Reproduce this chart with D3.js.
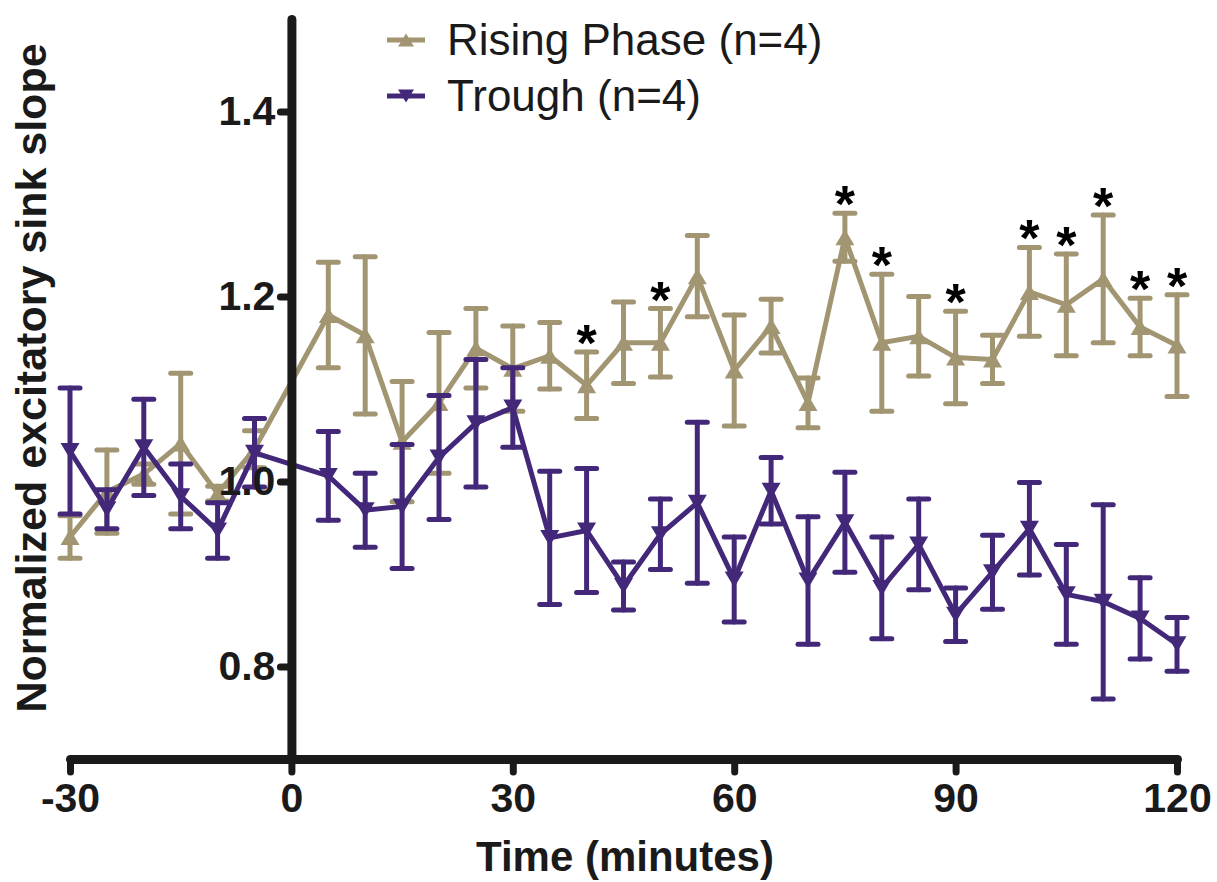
<!DOCTYPE html>
<html>
<head>
<meta charset="utf-8">
<script src="https://cdn.jsdelivr.net/npm/d3@7"></script>
<style>
  body { margin: 0; background: #fff; }
  svg { display: block; font-family: Arial, "Liberation Sans", sans-serif; }
</style>
</head>
<body>
<svg width="1217" height="882"></svg>
<script>
// time points (minutes), no point at 0
var times = [-30,-25,-20,-15,-10,-5,5,10,15,20,25,30,35,40,45,50,55,60,65,70,75,80,85,90,95,100,105,110,115,120];

var risingMean = [0.940,0.989,1.008,1.041,0.987,1.035,1.180,1.158,1.043,1.085,1.144,1.122,1.136,1.104,1.150,1.150,1.222,1.120,1.168,1.085,1.264,1.150,1.157,1.134,1.132,1.205,1.191,1.219,1.167,1.147];
var risingErr = [0.023,0.045,0.011,0.076,0.008,0.020,0.057,0.085,0.065,0.076,0.043,0.046,0.036,0.036,0.044,0.037,0.044,0.060,0.029,0.027,0.026,0.074,0.043,0.050,0.026,0.048,0.055,0.069,0.031,0.055];

var troughMean = [1.033,0.970,1.037,0.984,0.947,1.031,1.006,0.969,0.973,1.026,1.063,1.080,0.939,0.947,0.887,0.943,0.977,0.894,0.990,0.893,0.956,0.885,0.932,0.856,0.902,0.949,0.878,0.870,0.852,0.824];
var troughErr = [0.068,0.021,0.052,0.035,0.030,0.037,0.048,0.040,0.067,0.067,0.069,0.043,0.072,0.067,0.026,0.038,0.087,0.046,0.036,0.069,0.054,0.055,0.049,0.029,0.040,0.050,0.054,0.105,0.044,0.029];

// significant time points (stars over rising phase)
var starTimes = [40,50,75,80,90,100,105,110,115,120];

var xTicks = [-30,0,30,60,90,120];
var yTicks = [0.8,1.0,1.2,1.4];

var tan = "#a19572";
var purple = "#43287a";
var ink = "#1a1a1a";

var svg = d3.select("svg");

var x = d3.scaleLinear().domain([-30,120]).range([70,1177]);
var y = d3.scaleLinear().domain([0.7,1.5]).range([759,19]);

function makeSeries(mean, err) {
  return times.map(function(t,i){ return {t:t, m:mean[i], e:err[i]}; });
}

var series = [
  {name:"Rising Phase (n=4)", color:tan, up:true, data:makeSeries(risingMean, risingErr)},
  {name:"Trough (n=4)", color:purple, up:false, data:makeSeries(troughMean, troughErr)}
];

function tri(up, w, h) {
  if (up) return "M0," + (-h/2) + "L" + (w/2) + "," + (h/2) + "L" + (-w/2) + "," + (h/2) + "Z";
  return "M0," + (h/2) + "L" + (w/2) + "," + (-h/2) + "L" + (-w/2) + "," + (-h/2) + "Z";
}

var line = d3.line().x(function(d){return x(d.t);}).y(function(d){return y(d.m);});

series.forEach(function(s){
  var g = svg.append("g");
  var eb = g.selectAll(".eb").data(s.data).enter().append("g")
    .attr("stroke", s.color).attr("stroke-width", 5).attr("stroke-linecap", "round");
  eb.append("line")
    .attr("x1", function(d){return x(d.t);}).attr("x2", function(d){return x(d.t);})
    .attr("y1", function(d){return y(d.m + d.e);}).attr("y2", function(d){return y(d.m - d.e);});
  eb.append("line")
    .attr("x1", function(d){return x(d.t) - 10;}).attr("x2", function(d){return x(d.t) + 10;})
    .attr("y1", function(d){return y(d.m + d.e);}).attr("y2", function(d){return y(d.m + d.e);});
  eb.append("line")
    .attr("x1", function(d){return x(d.t) - 10;}).attr("x2", function(d){return x(d.t) + 10;})
    .attr("y1", function(d){return y(d.m - d.e);}).attr("y2", function(d){return y(d.m - d.e);});

  g.append("path").datum(s.data)
    .attr("d", line)
    .attr("fill", "none")
    .attr("stroke", s.color)
    .attr("stroke-width", 5)
    .attr("stroke-linejoin", "miter");

  g.selectAll(".mk").data(s.data).enter().append("path")
    .attr("d", tri(s.up, 19, 16))
    .attr("transform", function(d){return "translate(" + x(d.t) + "," + y(d.m) + ")";})
    .attr("fill", s.color);
});

// stars
var rising = series[0].data;
svg.selectAll(".star").data(starTimes).enter().append("text")
  .attr("x", function(t){return x(t);})
  .attr("y", function(t){
    var d = rising.filter(function(p){return p.t === t;})[0];
    return y(d.m + d.e) + 9;
  })
  .attr("text-anchor", "middle")
  .attr("font-size", 52)
  .attr("font-weight", "bold")
  .attr("fill", "#000")
  .text("*");

// axes
var yAxis = d3.axisLeft(y).tickValues(yTicks).tickFormat(d3.format(".1f")).tickSize(11).tickSizeOuter(0).tickPadding(5);
var xAxis = d3.axisBottom(x).tickValues(xTicks).tickFormat(function(d){return String(d);}).tickSize(13).tickSizeOuter(0).tickPadding(11);

var gx = svg.append("g").attr("transform", "translate(0," + y(0.7) + ")").call(xAxis);
var gy = svg.append("g").attr("transform", "translate(" + x(0) + ",0)").call(yAxis);

[gx, gy].forEach(function(g){
  g.select(".domain").attr("stroke", ink).attr("stroke-width", 9).attr("stroke-linecap", "round");
  g.selectAll(".tick line").attr("stroke", ink).attr("stroke-width", 7).attr("stroke-linecap", "round");
  g.selectAll(".tick text").attr("fill", ink).attr("font-size", 41).attr("font-weight", "bold")
    .attr("font-family", "Arial, 'Liberation Sans', sans-serif");
});

// axis titles
svg.append("text")
  .attr("x", 625).attr("y", 871)
  .attr("text-anchor", "middle")
  .attr("font-size", 42).attr("font-weight", "bold").attr("fill", ink)
  .text("Time (minutes)");

svg.append("text")
  .attr("transform", "translate(46,378) rotate(-90)")
  .attr("text-anchor", "middle")
  .attr("font-size", 43).attr("font-weight", "bold").attr("fill", ink)
  .text("Normalized excitatory sink slope");

// legend
var legend = svg.append("g").attr("transform", "translate(387,40)");
series.forEach(function(s, i){
  var row = legend.append("g").attr("transform", "translate(0," + (i * 56) + ")");
  row.append("line").attr("x1", 0).attr("x2", 38).attr("y1", 0).attr("y2", 0)
    .attr("stroke", s.color).attr("stroke-width", 5);
  row.append("path").attr("d", tri(s.up, 16, 13)).attr("transform", "translate(19,0)").attr("fill", s.color);
  row.append("text").attr("x", 60).attr("y", 15)
    .attr("font-size", 44).attr("fill", ink)
    .text(s.name);
});
</script>
</body>
</html>
